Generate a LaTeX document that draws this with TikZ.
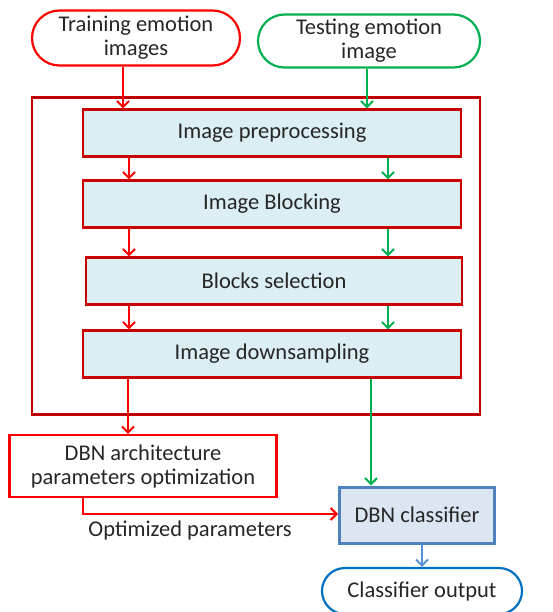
\documentclass[tikz,border=0pt]{standalone}
\usepackage{fontspec}
\setmainfont{Carlito}
\usepackage{tikz}
\usetikzlibrary{positioning,calc,arrows.meta,shapes.misc}
\definecolor{tred}{HTML}{FF0000}
\definecolor{dred}{HTML}{C00000}
\definecolor{tgreen}{HTML}{00B050}
\definecolor{cblue}{HTML}{4F81BD}
\definecolor{oblue}{HTML}{0070C0}
\definecolor{ablue}{HTML}{558ED5}
\definecolor{stepfill}{HTML}{DAEEF3}
\definecolor{clffill}{HTML}{DCE6F2}
\tikzset{txt/.style={font=\fontsize{22.5}{24}\selectfont, align=center, text=black!85}}
\tikzset{oval/.style={txt, rounded rectangle, draw, line width=2.2pt, inner sep=0pt}}
\tikzset{stepbox/.style={txt, draw=dred!85!red, line width=2.2pt, fill=stepfill, minimum width=378pt, minimum height=47pt, inner sep=0pt}}
\tikzset{arr/.style={draw, -{Straight Barb[length=6pt, width=12pt, line width=2pt]}, line width=2pt}}

\begin{document}
\begin{tikzpicture}[x=1pt, y=-1pt]
                \useasboundingbox (0,0) rectangle (552,612);
                %
                \node[oval, tred, text=black!85, minimum width=208pt, minimum height=55pt] (train) at (136,38) {Training emotion\\images};
                \node[oval, tgreen, text=black!85, minimum width=222pt, minimum height=53pt] (test) at (369,41) {Testing emotion\\image};
                %
                \node[draw=dred, line width=2.2pt, minimum width=448pt, minimum height=317pt] (frame) at (256,256) {};
                \node[stepbox] (prep) at (272,133) {Image preprocessing};
                \node[stepbox] (block) at (272,204) {Image Blocking};
                \node[stepbox, minimum width=376pt] (select) at (274,281) {Blocks selection};
                \node[stepbox] (down) at (272,354) {Image downsampling};
                %
                \node[txt, draw=tred, line width=2.2pt, minimum width=267pt, minimum height=62pt] (arch) at (143,466) {DBN architecture\\parameters optimization};
                \node[txt, draw=cblue, line width=3pt, fill=clffill, minimum width=155pt, minimum height=56pt] (clf) at (417,515) {DBN classifier};
                \node[oval, oblue, text=black!85, minimum width=200pt, minimum height=46pt] (out) at (422,591) {Classifier output};
                %
                \coordinate (rx) at (129,0);
                \coordinate (gx) at (388,0);
                \coordinate (bend) at (83,514);
                %
                \draw[arr, tred] (train.south -| 123,0) to (prep.north -| 123,0);
                \draw[arr, tgreen] (test.south -| 367,0) to (prep.north -| 367,0);
                \draw[arr, tred] (prep.south -| rx) to (block.north -| rx);
                \draw[arr, tgreen] (prep.south -| gx) to (block.north -| gx);
                \draw[arr, tred] (block.south -| rx) to (select.north -| rx);
                \draw[arr, tgreen] (block.south -| gx) to (select.north -| gx);
                \draw[arr, tred] (select.south -| rx) to (down.north -| rx);
                \draw[arr, tgreen] (select.south -| gx) to (down.north -| gx);
                %
                \draw[arr, tred] (down.south -| 128,0) to (arch.north -| 128,0);
                \draw[arr, tgreen] (down.south -| 371,0) to (clf.north -| 371,0);
                \draw[arr, tred] (arch.south -| bend) to (bend) to
                    node[txt, below=3pt, pos=0.42]{Optimized parameters}
                    (clf.west |- bend);
                \draw[arr, ablue] (clf.south -| out.north) to (out.north);
                %
            \end{tikzpicture}
\end{document}
